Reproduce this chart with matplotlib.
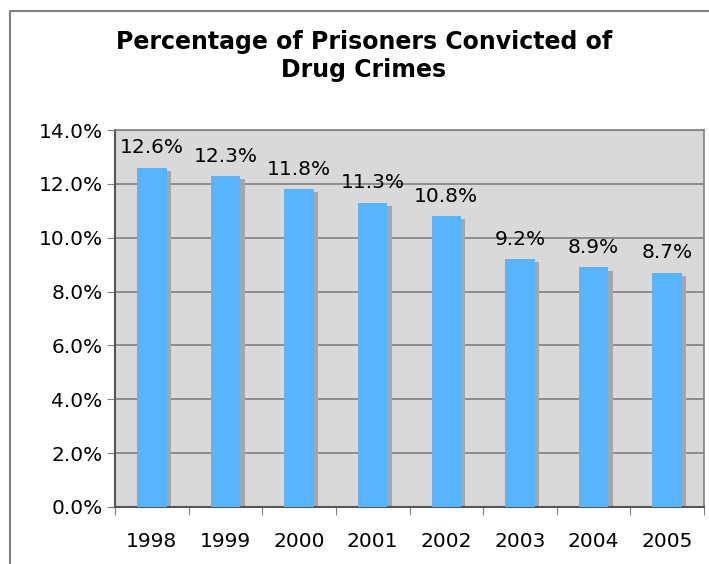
import matplotlib.pyplot as plt
from matplotlib.lines import Line2D
from matplotlib.ticker import FuncFormatter

years = ['1998', '1999', '2000', '2001', '2002', '2003', '2004', '2005']
pct = [12.6, 12.3, 11.8, 11.3, 10.8, 9.2, 8.9, 8.7]
labels = ['12.6%', '12.3%', '11.8%', '11.3%', '10.8%', '9.2%', '8.9%', '8.7%']

fig = plt.figure(figsize=(7.09, 5.64), dpi=100)

# outer chart frame (only top/left visible in reference)
fy = 1 - 11 / 564
fx = 10 / 709
fig.lines.append(Line2D([fx, fx, 1.0], [0, fy, fy], transform=fig.transFigure,
                        color='#808080', linewidth=1.5))

ax = fig.add_axes([115 / 709, 57 / 564, 589 / 709, 377 / 564])
ax.set_facecolor('#d9d9d9')

x = list(range(len(years)))
width = 0.4
# shadow
ax.bar([p + 0.06 for p in x], [v - 0.12 for v in pct], width=width, bottom=0,
       color='#a6a6a6', zorder=2)
ax.bar(x, pct, width=width, color='#59b4ff', zorder=3)

for p, v, lab in zip(x, pct, labels):
    ax.text(p, v + 0.38, lab, ha='center', va='bottom', fontsize=14.5,
            color='black', zorder=4)

ax.set_xlim(-0.5, len(years) - 0.5)
ax.set_ylim(0, 14)
ax.set_yticks([0, 2, 4, 6, 8, 10, 12, 14])
ax.yaxis.set_major_formatter(FuncFormatter(lambda v, _: f'{v:.1f}%'))
ax.yaxis.grid(True, color='#808080', linewidth=1.2, zorder=1)
ax.set_axisbelow(True)

ax.set_xticks([p - 0.5 for p in x] + [len(years) - 0.5])
ax.set_xticklabels([])
ax.set_xticks(x, minor=True)
ax.set_xticklabels(years, minor=True)
ax.tick_params(axis='x', which='minor', length=0, labelsize=14.5, pad=18)
ax.tick_params(axis='x', which='major', length=6, color='#808080', direction='out')
ax.tick_params(axis='y', length=6, color='#808080', labelsize=14.5, pad=3)

for s in ['top', 'right']:
    ax.spines[s].set_color('#808080')
    ax.spines[s].set_linewidth(1.2)
ax.spines['left'].set_color('#555555')
ax.spines['bottom'].set_color('#555555')
ax.spines['left'].set_linewidth(1.5)
ax.spines['bottom'].set_linewidth(1.5)

fig.text(364 / 709, 1 - 56 / 564, 'Percentage of Prisoners Convicted of\nDrug Crimes',
         ha='center', va='center', fontsize=17, fontweight='bold', linespacing=1.25)

fig.savefig('out.png', dpi=100)
